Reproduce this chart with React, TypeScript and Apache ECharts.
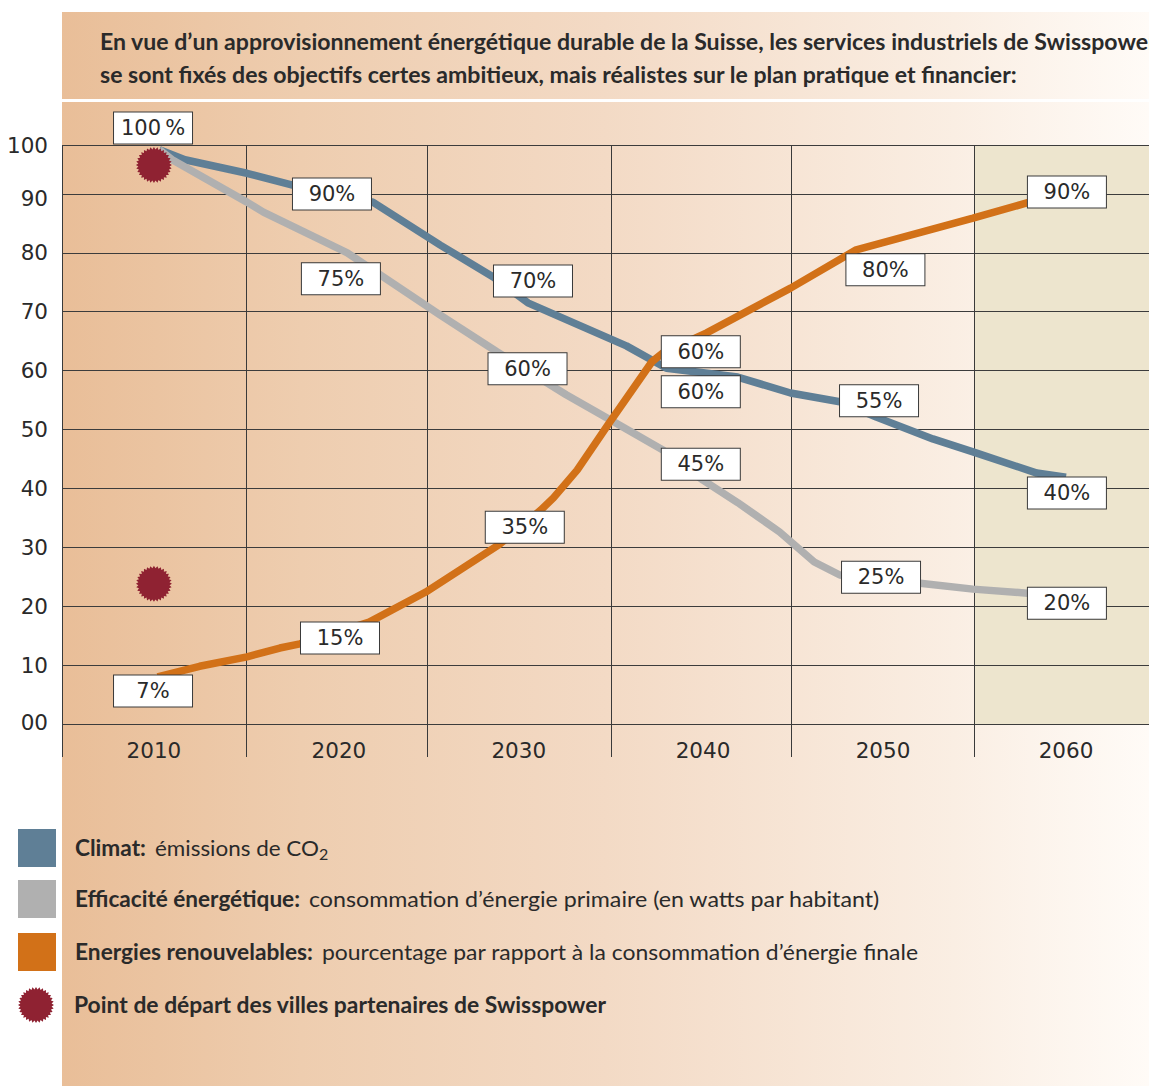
import React, { useEffect, useRef } from "react";
import * as echarts from "echarts";

const yTicks = [0, 10, 20, 30, 40, 50, 60, 70, 80, 90, 98.3];
const yLabels = [0.3, 10, 20, 30, 40, 50, 60, 70, 80, 89.2, 98.3];
const xTicks = [2004.96, 2015.07, 2025, 2035.05, 2044.92, 2054.96];
const xLabels = [2010, 2020.14, 2030, 2040.1, 2049.97, 2060];

const climat = [
  [2010.3, 97.5], [2011.7, 95.8], [2015.1, 93.5], [2017.6, 91.5], [2022, 88.6], [2025.7, 81.3],
  [2028.6, 75.9], [2030.5, 71.5], [2035.9, 64.2], [2038.1, 60.4], [2042, 58.9], [2044.9, 56.2],
  [2047.6, 54.7], [2049.6, 52.1], [2052.7, 48.4], [2054.9, 46.2], [2058.4, 42.6], [2060, 41.9],
];
const efficacite = [
  [2010.3, 97.5], [2011, 95.8], [2015.1, 88.6], [2016, 86.9], [2020.6, 80], [2025.7, 69.4],
  [2028.8, 63.2], [2032.6, 55.9], [2035.2, 51.3], [2037.9, 46.5], [2040.1, 41.4], [2042, 37.6],
  [2043.2, 35], [2044.3, 32.6], [2046.2, 27.5], [2047.6, 25.3], [2052, 23.9], [2054.9, 22.9],
  [2057.9, 22.2], [2060, 21.7],
];
const renouvelables = [
  [2010.2, 8], [2012.5, 9.8], [2015.1, 11.4], [2016.9, 12.9], [2018, 13.6], [2021.8, 17.3],
  [2024.9, 22.4], [2028.9, 30.4], [2031.2, 36.3], [2031.9, 38.4], [2033.2, 43.1], [2035, 51.3],
  [2037.3, 61.5], [2037.9, 63], [2040.3, 66.4], [2044.9, 74], [2048.5, 80.5], [2054.9, 85.9],
  [2057.9, 88.5], [2060, 90.3],
];
const depart = [[2010, 94.9], [2010, 23.8]];
const callouts: [number, number, string][] = [
  [2009.95, 101.2, "100\u2009%"], [2019.76, 90, "90%"], [2020.25, 75.6, "75%"], [2030.78, 75.2, "70%"],
  [2030.48, 60.3, "60%"], [2039.98, 63.2, "60%"], [2039.98, 56.4, "60%"], [2039.98, 44.1, "45%"],
  [2050.1, 77.1, "80%"], [2060.05, 90.3, "90%"], [2049.75, 54.9, "55%"], [2060.05, 39.2, "40%"],
  [2049.86, 24.9, "25%"], [2060.05, 20.5, "20%"], [2030.33, 33.4, "35%"], [2020.2, 14.6, "15%"],
  [2009.95, 5.6, "7%"],
];
const headerLines = [
  "En vue d\u2019un approvisionnement énergétique durable de la Suisse, les services industriels de Swisspower",
  "se sont fixés des objectifs certes ambitieux, mais réalistes sur le plan pratique et financier:",
];
const BLUE = "#5F7F96", GREY = "#B0B0B0", ORANGE = "#D27118", MAROON = "#8F2232", INK = "#2a2a2a";

const burst = (n: number, inner: number) => {
  const pts: [number, number][] = [];
  for (let i = 0; i < n * 2; i++) {
    const r = i % 2 ? inner : 1, a = (i * Math.PI) / n;
    pts.push([r * Math.cos(a), r * Math.sin(a)]);
  }
  return pts;
};
const burstPath = "path://M" + burst(32, 0.87).map(([a, b]) => `${(a * 100 + 100).toFixed(1)} ${(b * 100 + 100).toFixed(1)}`).join("L") + "Z";

const txt = (x: number, y: number, text: string, bold: boolean, size: number, sx: number) => ({
  type: "text", x, y, scaleX: sx, z: 50,
  style: { text, fill: INK, font: `${bold ? "bold " : ""}${size}px Lato`, textVerticalAlign: "middle" },
});

export default function App() {
  const ref = useRef<HTMLDivElement>(null);
  useEffect(() => {
    document.body.style.margin = "0";
    document.body.style.overflow = "hidden";
    const chart = echarts.init(ref.current!, undefined, { renderer: "svg" });
    chart.setOption({
      animation: false,
      backgroundColor: "transparent",
      grid: { left: 62, top: 145, width: 1087, height: 579 },
      xAxis: {
        type: "value", min: 2004.96, max: 2064.55,
        axisLine: { show: false },
        axisTick: { show: true, customValues: xTicks, length: 33, inside: false, lineStyle: { color: "#3a3a3a", width: 1 } },
        splitLine: { show: true, lineStyle: { color: "#3a3a3a", width: 1 } },
        axisLabel: {
          customValues: xLabels, margin: 15, color: INK, fontFamily: "DejaVu Sans", fontSize: 21.5,
          formatter: (v: number) => String(Math.round(v / 10) * 10),
        },
      },
      yAxis: {
        type: "value", min: 0, max: 98.3,
        axisLine: { show: false },
        axisTick: { show: false, customValues: yTicks },
        splitLine: { show: true, lineStyle: { color: "#3c3c3c", width: 1 } },
        axisLabel: {
          customValues: yLabels, margin: 14, color: INK, fontFamily: "DejaVu Sans", fontSize: 21.5,
          formatter: (v: number) => (v < 1 ? "00" : v > 95 ? "100" : String(Math.round(v / 10) * 10)),
        },
      },
      series: [
        {
          type: "line", name: "shade", data: [], z: -1, silent: true,
          markArea: { z: -1, silent: true, itemStyle: { color: "#EDE5CE", opacity: 1 }, data: [[{ xAxis: 2054.96, yAxis: 0 }, { xAxis: 2064.55, yAxis: 98.3 }]] },
        },
        { type: "line", name: "Climat", data: climat, showSymbol: false, lineStyle: { color: BLUE, width: 7.5 }, z: 3 },
        { type: "line", name: "Efficacité énergétique", data: efficacite, showSymbol: false, lineStyle: { color: GREY, width: 7.5 }, z: 3 },
        { type: "line", name: "Energies renouvelables", data: renouvelables, showSymbol: false, lineStyle: { color: ORANGE, width: 7.5 }, z: 3 },
        { type: "scatter", name: "Point de départ", data: depart, clip: false, symbol: burstPath, symbolSize: 36, itemStyle: { color: MAROON, opacity: 1 }, z: 4 },
        {
          type: "scatter", name: "Étiquettes", clip: false, z: 6, symbolSize: 1,
          itemStyle: { opacity: 1, color: "#fff" },
          data: callouts.map(([x, y, t]) => ({ value: [x, y], label: { formatter: t } })),
          label: {
            show: true, position: "inside", opacity: 1, color: INK, fontFamily: "DejaVu Sans", fontSize: 21,
            backgroundColor: "#fff", borderColor: "#3a3a3a", borderWidth: 1,
            width: 78, height: 31, lineHeight: 31, align: "center", verticalAlign: "middle",
          },
        },
      ],
      graphic: {
        elements: [
          txt(100, 42, headerLines[0], true, 22, 1.05),
          txt(100, 75, headerLines[1], true, 22, 1.05),
          { type: "rect", x: 18, y: 829, z: 50, shape: { width: 38, height: 38 }, style: { fill: BLUE } },
          { type: "rect", x: 18, y: 880, z: 50, shape: { width: 38, height: 38 }, style: { fill: GREY } },
          { type: "rect", x: 18, y: 933, z: 50, shape: { width: 38, height: 38 }, style: { fill: ORANGE } },
          { type: "polygon", x: 36, y: 1005, z: 50, shape: { points: burst(32, 0.87).map(([a, b]) => [a * 18, b * 18]) }, style: { fill: MAROON } },
          txt(75, 848, "Climat:", true, 22, 1.03),
          txt(155, 848, "émissions de CO", false, 22, 1.02),
          txt(319, 853, "2", false, 16, 1),
          txt(75, 899, "Efficacité énergétique:", true, 22, 1.027),
          txt(309, 899, "consommation d\u2019énergie primaire (en watts par habitant)", false, 22, 1.055),
          txt(75, 952, "Energies renouvelables:", true, 22, 1.033),
          txt(322, 952, "pourcentage par rapport à la consommation d\u2019énergie finale", false, 22, 1.042),
          txt(74, 1005, "Point de départ des villes partenaires de Swisspower", true, 22, 1.04),
        ],
      },
    });
    return () => chart.dispose();
  }, []);
  return (
    <div style={{ position: "fixed", left: 0, top: 0, width: 1149, height: 1086, background: "#fff", overflow: "hidden" }}>
      <div style={{ position: "absolute", left: 62, top: 12, width: 1087, height: 1074, background: "linear-gradient(90deg,#E9BE98 0%,#EECDAF 22%,#F3DAC5 50%,#FAEEE3 82%,#FFFBF7 100%)" }} />
      <div style={{ position: "absolute", left: 62, top: 99, width: 1087, height: 3, background: "#fff" }} />
      <div ref={ref} style={{ position: "absolute", left: 0, top: 0, width: 1149, height: 1086 }} />
    </div>
  );
}
